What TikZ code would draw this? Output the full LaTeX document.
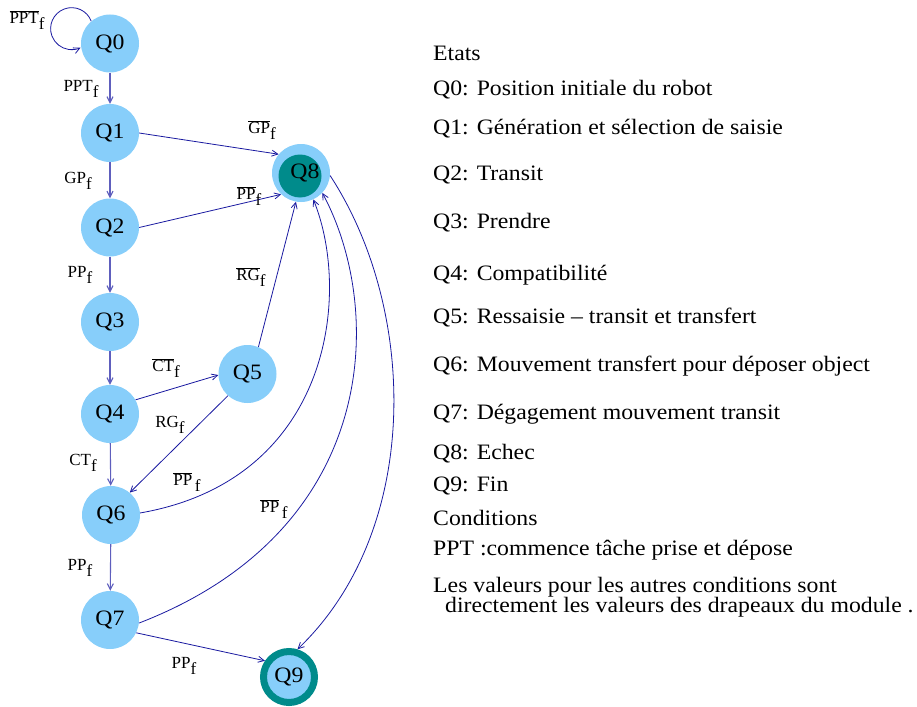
\documentclass[tikz,border=0pt]{standalone}
\usepackage{fontspec}
\setmainfont{Liberation Serif}
\newfontfamily\wideserif[FakeStretch=1.08,Ligatures=TeX]{Liberation Serif}
\usetikzlibrary{arrows.meta}
\definecolor{nodeblue}{RGB}{135,206,250}
\definecolor{tealc}{RGB}{0,139,139}
\definecolor{edgec}{RGB}{25,25,160}
\newcommand\cnd[2][0pt]{#2\kern#1\raisebox{-0.36em}{f}}
\newcommand\ncnd[2][0pt]{\ensuremath{\overline{\hbox{#2}}}\kern#1\raisebox{-0.36em}{f}}
\begin{document}
\begin{tikzpicture}[x=1pt,y=-1pt,
  state/.style={circle, fill=nodeblue, minimum size=58pt, inner sep=0pt, font=\wideserif\fontsize{22}{26}\selectfont},
  edge/.style={draw=edgec, line width=0.8pt, -{Straight Barb[length=6pt,width=6pt]}},
  vedge/.style={edge, draw=edgec!70, line width=1.1pt},
  lbl/.style={font=\fontsize{17}{19}\selectfont, inner sep=0pt},
  leg/.style={font=\wideserif\fontsize{22}{26}\selectfont, anchor=west, inner sep=0pt}]
\useasboundingbox (0,0) rectangle (917,706);
% states
\node[state] (q0) at (110,43.5) {Q0};
\node[state] (q1) at (110,133) {Q1};
\node[state] (q2) at (110,227.5) {Q2};
\node[state] (q3) at (110,322) {Q3};
\node[state] (q4) at (110,414) {Q4};
\node[state] (q5) at (247.5,374) {Q5};
\node[state] (q6) at (111,515) {Q6};
\node[state] (q7) at (110,620) {Q7};
\node[state] (q8) at (301,173) {};
\node[circle, fill=tealc, minimum size=43pt, inner sep=0pt] (q8in) at (300,176) {};
\node[font=\wideserif\fontsize{22}{26}\selectfont, inner sep=0pt] (q8t) at (305,173) {Q8};
\node[state, draw=tealc, line width=7pt, minimum size=51pt] (q9) at (289,677) {Q9};
% edges
\draw[edge] (q0.130) arc[start angle=-21, end angle=-295, radius=21];
\draw[vedge] (q0) -- (q1);
\draw[vedge] (q1) -- (q2);
\draw[vedge] (q2) -- (q3);
\draw[vedge] (q3) -- (q4);
\draw[vedge] (q4) -- (q6);
\draw[vedge] (q6) -- (q7);
\draw[edge] (q1.east) -- (q8.140);
\draw[edge] (q2.east) -- (q8.227);
\draw[edge] (q4.29) -- (q5.182);
\draw[edge] (q5.228) -- (q6.50);
\draw[edge] (q5.68) -- (q8.-100);
\draw[edge] (q6.4) .. controls (330,480) and (352,295) .. (q8.-65);
\draw[edge] (q7.-6) .. controls (380,530) and (385,310) .. (q8.-43);
\draw[edge] (q8.-5) .. controls (418,310) and (422,530) .. (q9.73);
\draw[edge] (q7.-26) -- (q9.146);
% labels
\node[lbl] (l00) at (27,20) {\ncnd{PPT}};
\node[lbl] (l01) at (81,89) {\cnd{PPT}};
\node[lbl] (l18) at (262,130) {\ncnd{GP}};
\node[lbl] (l12) at (78,181) {\cnd{GP}};
\node[lbl] (l28) at (249,196) {\ncnd{PP}};
\node[lbl] (l23) at (80,275) {\cnd{PP}};
\node[lbl] (l58) at (251,277) {\ncnd{RG}};
\node[lbl] (l45) at (166,368) {\ncnd{CT}};
\node[lbl] (l56) at (170,425) {\cnd{RG}};
\node[lbl] (l46) at (83,463) {\cnd{CT}};
\node[lbl] (l68) at (187,482) {\ncnd[0.15em]{PP}};
\node[lbl] (l78) at (274,509) {\ncnd[0.15em]{PP}};
\node[lbl] (l67) at (80,568) {\cnd{PP}};
\node[lbl] (l79) at (184,666) {\cnd{PP}};
% legend
\node[leg] (t0) at (433,53.5) {Etats};
\node[leg] (t1) at (433,90) {Q0: Position initiale du robot};
\node[leg] (t2) at (433,129) {Q1: Génération et sélection de saisie};
\node[leg] (t3) at (433,175) {Q2: Transit};
\node[leg] (t4) at (433,223) {Q3: Prendre};
\node[leg] (t5) at (433,275) {Q4: Compatibilité};
\node[leg] (t6) at (433,318) {Q5: Ressaisie – transit et transfert};
\node[leg] (t7) at (433,366) {Q6: Mouvement transfert pour déposer object};
\node[leg] (t8) at (433,414) {Q7: Dégagement mouvement transit};
\node[leg] (t9) at (433,454) {Q8: Echec};
\node[leg] (t10) at (433,486) {Q9: Fin};
\node[leg] (t11) at (433,518) {Conditions};
\node[leg] (t12) at (433,550) {PPT :commence tâche prise et dépose};
\node[leg, align=left, font=\wideserif\fontsize{22}{20}\selectfont] (t13) at (433,597)
  {Les valeurs pour les autres conditions sont\\\hspace*{12pt}directement les valeurs des drapeaux du module .};
\end{tikzpicture}
\end{document}
